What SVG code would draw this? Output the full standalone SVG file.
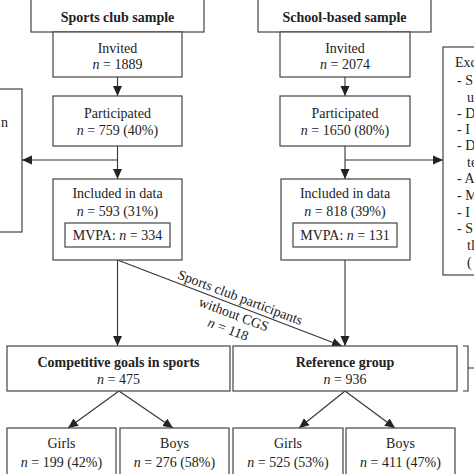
<svg xmlns="http://www.w3.org/2000/svg" width="474" height="474" viewBox="0 0 474 474">
<style>
.box{fill:#fff;stroke:#444;stroke-width:1.2}
.t{font-family:"Liberation Serif","Times New Roman",serif;font-size:14px;fill:#222;text-anchor:middle}
.b{font-weight:bold}
.l{text-anchor:start}
.c{fill:none;stroke:#333;stroke-width:1.1}
</style>
<defs>
<marker id="ah" markerUnits="userSpaceOnUse" markerWidth="10" markerHeight="10" viewBox="0 0 10 10" refX="10" refY="5" orient="auto">
<path d="M0,0.5 L10,5 L0,9.5 z" fill="#222"/>
</marker>
</defs>
<rect width="474" height="474" fill="#fff"/>

<g id="connectors">
<line class="c" x1="117.5" y1="77" x2="117.5" y2="96" marker-end="url(#ah)"/>
<line class="c" x1="117.5" y1="146" x2="117.5" y2="179" marker-end="url(#ah)"/>
<line class="c" x1="117.5" y1="160" x2="22" y2="160" marker-end="url(#ah)"/>
<line class="c" x1="345" y1="77" x2="345" y2="96" marker-end="url(#ah)"/>
<line class="c" x1="345" y1="146" x2="345" y2="179" marker-end="url(#ah)"/>
<line class="c" x1="345" y1="160" x2="443" y2="160" marker-end="url(#ah)"/>
<line class="c" x1="117.5" y1="260" x2="117.5" y2="346" marker-end="url(#ah)"/>
<line class="c" x1="117.5" y1="260" x2="342" y2="346" marker-end="url(#ah)"/>
<line class="c" x1="345" y1="260" x2="345" y2="346" marker-end="url(#ah)"/>
<line class="c" x1="119" y1="391" x2="68" y2="428" marker-end="url(#ah)"/>
<line class="c" x1="119" y1="391" x2="173" y2="428" marker-end="url(#ah)"/>
<line class="c" x1="345" y1="391" x2="299" y2="428" marker-end="url(#ah)"/>
<line class="c" x1="345" y1="391" x2="395" y2="428" marker-end="url(#ah)"/>
<path class="c" d="M463,346 L468,346 L468,391 L463,391 M468,368 L475,368"/>
<g transform="translate(117.5,260) rotate(20.8)">
<text class="t" x="128" y="-4">Sports club participants</text>
<text class="t" x="128" y="14">without CGS</text>
<text class="t" x="128" y="30"><tspan font-style="italic">n</tspan> = 118</text>
</g>
</g>

<g id="sports-header">
<rect class="box" x="31" y="-1" width="173" height="33"/>
<text class="t b" x="117.5" y="22">Sports club sample</text>
</g>
<g id="school-header">
<rect class="box" x="258" y="-1" width="173" height="33"/>
<text class="t b" x="344.5" y="22">School-based sample</text>
</g>

<g id="sports-invited">
<rect class="box" x="53" y="32" width="129" height="45"/>
<text class="t" x="117.5" y="53">Invited</text>
<text class="t" x="117.5" y="69"><tspan font-style="italic">n</tspan> = 1889</text>
</g>
<g id="school-invited">
<rect class="box" x="280" y="32" width="130" height="45"/>
<text class="t" x="345" y="53">Invited</text>
<text class="t" x="345" y="69"><tspan font-style="italic">n</tspan> = 2074</text>
</g>

<g id="sports-participated">
<rect class="box" x="53" y="96" width="129" height="50"/>
<text class="t" x="117.5" y="118">Participated</text>
<text class="t" x="117.5" y="135"><tspan font-style="italic">n</tspan> = 759 (40%)</text>
</g>
<g id="school-participated">
<rect class="box" x="280" y="96" width="130" height="50"/>
<text class="t" x="345" y="118">Participated</text>
<text class="t" x="345" y="135"><tspan font-style="italic">n</tspan> = 1650 (80%)</text>
</g>

<g id="sports-included">
<rect class="box" x="53" y="179" width="129" height="81"/>
<text class="t" x="117.5" y="198">Included in data</text>
<text class="t" x="117.5" y="216"><tspan font-style="italic">n</tspan> = 593 (31%)</text>
<rect class="box" x="65" y="223" width="105" height="24"/>
<text class="t" x="117.5" y="240">MVPA: <tspan font-style="italic">n</tspan> = 334</text>
</g>
<g id="school-included">
<rect class="box" x="281" y="179" width="129" height="81"/>
<text class="t" x="345" y="198">Included in data</text>
<text class="t" x="345" y="216"><tspan font-style="italic">n</tspan> = 818 (39%)</text>
<rect class="box" x="293" y="223" width="104" height="24"/>
<text class="t" x="345" y="240">MVPA: <tspan font-style="italic">n</tspan> = 131</text>
</g>

<g id="left-exclusion">
<rect class="box" x="-5" y="89" width="27" height="143"/>
<text class="t" x="8" y="127" style="text-anchor:end">n</text>
</g>

<g id="right-exclusion">
<rect class="box" x="443" y="47" width="40" height="228"/>
<text class="t l" x="455" y="67">Exc</text>
<text class="t l" x="457" y="85">-  S</text>
<text class="t l" x="467" y="102">u</text>
<text class="t l" x="457" y="118">-  D</text>
<text class="t l" x="457" y="134">-  I</text>
<text class="t l" x="457" y="150">-  D</text>
<text class="t l" x="467" y="167">te</text>
<text class="t l" x="457" y="183">-  A</text>
<text class="t l" x="457" y="200">-  M</text>
<text class="t l" x="457" y="217">-  I</text>
<text class="t l" x="457" y="233">-  S</text>
<text class="t l" x="467" y="250">tl</text>
<text class="t l" x="467" y="267">(</text>
</g>

<g id="competitive">
<rect class="box" x="7" y="346" width="223" height="45"/>
<text class="t b" x="118.5" y="367">Competitive goals in sports</text>
<text class="t" x="118.5" y="384"><tspan font-style="italic">n</tspan> = 475</text>
</g>
<g id="reference">
<rect class="box" x="233" y="346" width="224" height="45"/>
<text class="t b" x="345" y="367">Reference group</text>
<text class="t" x="345" y="384"><tspan font-style="italic">n</tspan> = 936</text>
</g>

<g id="cgs-girls">
<rect class="box" x="7" y="428" width="109" height="56"/>
<text class="t" x="61.5" y="448">Girls</text>
<text class="t" x="61.5" y="467"><tspan font-style="italic">n</tspan> = 199 (42%)</text>
</g>
<g id="cgs-boys">
<rect class="box" x="120" y="428" width="109" height="56"/>
<text class="t" x="174.5" y="448">Boys</text>
<text class="t" x="174.5" y="467"><tspan font-style="italic">n</tspan> = 276 (58%)</text>
</g>
<g id="ref-girls">
<rect class="box" x="233" y="428" width="110" height="56"/>
<text class="t" x="288" y="448">Girls</text>
<text class="t" x="288" y="467"><tspan font-style="italic">n</tspan> = 525 (53%)</text>
</g>
<g id="ref-boys">
<rect class="box" x="346" y="428" width="109" height="56"/>
<text class="t" x="400.5" y="448">Boys</text>
<text class="t" x="400.5" y="467"><tspan font-style="italic">n</tspan> = 411 (47%)</text>
</g>
</svg>
